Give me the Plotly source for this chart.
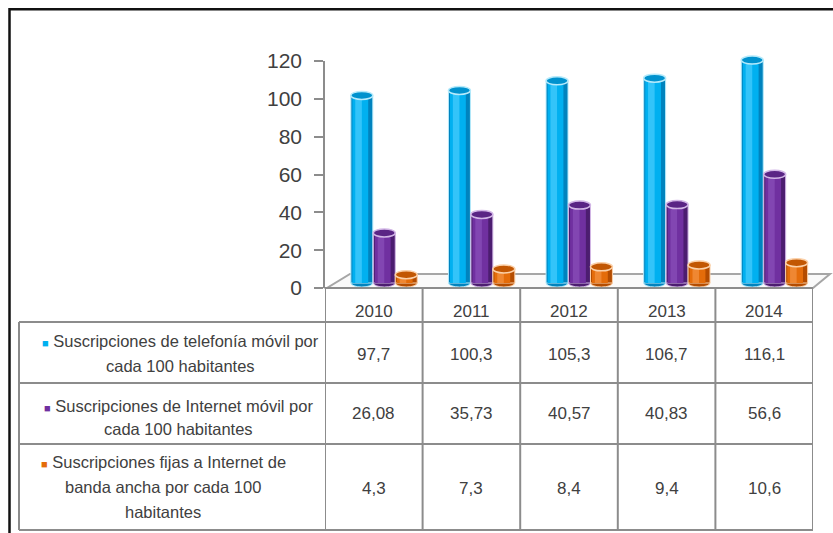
import plotly.graph_objects as go

# ---------------- data ----------------
years = ["2010", "2011", "2012", "2013", "2014"]
telefonia_movil = [97.7, 100.3, 105.3, 106.7, 116.1]
internet_movil = [26.08, 35.73, 40.57, 40.83, 56.6]
banda_ancha_fija = [4.3, 7.3, 8.4, 9.4, 10.6]
series_labels = [
    ["Suscripciones de telefonía móvil por", "cada 100 habitantes"],
    ["Suscripciones de Internet móvil por", "cada 100 habitantes"],
    ["Suscripciones fijas a Internet de", "banda ancha por cada 100", "habitantes"],
]
y_ticks = [0, 20, 40, 60, 80, 100, 120]

# ---------------- layout helpers (reference pixel -> paper) ----------------
W, H = 833, 533
def px(x):
    return x / W
def py(y):
    return 1 - y / H

FONT = "Liberation Sans, Arial, sans-serif"
TXT = "#404040"
GRID = "#8C8C8C"

series = [telefonia_movil, internet_movil, banda_ancha_fija]
styles = [
    dict(dark="#0083BE", main="#00B0F0", light="#55D2FF", rim="#B5EAFB", top="#0092CE"),
    dict(dark="#4C1D70", main="#7030A0", light="#8E55BE", rim="#D2B6E6", top="#5A2585"),
    dict(dark="#B44C00", main="#E46C0A", light="#F7994C", rim="#FBD0A8", top="#C25703"),
]
offsets = [-0.235, -0.005, 0.22]
BW = 0.225

# bar axis: 0 at y=283 px, 1.92 px per unit
PPU = 1.92
Y0PX = 283
Y2MIN, Y2MAX = -5, 120
y2dom = [py(Y0PX - Y2MIN * PPU), py(Y0PX - Y2MAX * PPU)]
E = 4.0 / PPU  # ellipse half height in data units

fig = go.Figure()
shapes = []

# invisible trace so that the tick axis subplot is drawn
fig.add_trace(go.Scatter(x=years, y=telefonia_movil, mode="none", hoverinfo="skip",
                         showlegend=False))

# floor
fl = [(327, 288), (813, 288), (830, 274), (350, 274)]
path = "M " + " L ".join(f"{px(a):.5f},{py(b):.5f}" for a, b in fl) + " Z"
shapes.append(dict(type="path", path=path, xref="paper", yref="paper",
                   fillcolor="#FAFAFA", line=dict(color="#A6A6A6", width=2), layer="below"))

for k, (vals, st, o) in enumerate(zip(series, styles, offsets)):
    fig.add_trace(go.Bar(x=years, y=vals, yaxis="y2", offset=o, width=BW,
                         marker=dict(color=st["dark"], line=dict(color=st["rim"], width=1)),
                         hoverinfo="y"))
    fig.add_trace(go.Bar(x=years, y=vals, yaxis="y2", offset=o + 0.07 * BW, width=0.72 * BW,
                         marker=dict(color=st["main"], line=dict(width=0)), hoverinfo="skip"))
    fig.add_trace(go.Bar(x=years, y=vals, yaxis="y2", offset=o + 0.2 * BW, width=0.3 * BW,
                         marker=dict(color=st["light"], line=dict(width=0), opacity=0.6),
                         hoverinfo="skip"))
    for i, v in enumerate(vals):
        shapes.append(dict(type="circle", xref="x", yref="y2",
                           x0=i + o, x1=i + o + BW, y0=-E, y1=E,
                           fillcolor=st["dark"], line=dict(color=st["rim"], width=1), layer="below"))
        shapes.append(dict(type="circle", xref="x", yref="y2",
                           x0=i + o, x1=i + o + BW, y0=v - E, y1=v + E,
                           fillcolor=st["top"], line=dict(color=st["rim"], width=1.5)))

# ---------------- data table ----------------
TOP, HDR, R1, R2, BOT = 288, 322, 383, 444, 530
LEFT = 19
for i in range(len(years) + 1):
    shapes.append(dict(type="line", xref="x", yref="paper",
                       x0=i - 0.5, x1=i - 0.5, y0=py(TOP), y1=py(BOT),
                       line=dict(color=GRID, width=2)))
shapes.append(dict(type="line", xref="x", yref="paper", x0=-0.5, x1=len(years) - 0.5,
                   y0=py(TOP), y1=py(TOP), line=dict(color=GRID, width=2)))
for yy in (HDR, R1, R2, BOT):
    shapes.append(dict(type="line", xref="paper", yref="paper", x0=px(LEFT), x1=px(813),
                       y0=py(yy), y1=py(yy), line=dict(color=GRID, width=2)))
shapes.append(dict(type="line", xref="paper", yref="paper", x0=px(LEFT), x1=px(LEFT),
                   y0=py(HDR), y1=py(BOT), line=dict(color=GRID, width=2)))

# outer frame
shapes.append(dict(type="path", xref="paper", yref="paper",
                   path=f"M {px(9.5)},0 L {px(9.5)},{py(9.3)} L 1,{py(9.3)}",
                   line=dict(color="#111111", width=2.5)))

annotations = []
for i, yr in enumerate(years):
    annotations.append(dict(x=i, y=py(311), xref="x", yref="paper", text=yr,
                            yanchor="middle", showarrow=False,
                            font=dict(family=FONT, size=17, color=TXT)))
row_val_y = [354, 413, 488]
row_lbl_x = [180, 178, 163]
row_lbl_y = [[341, 366], [406, 429], [462, 487, 512]]
for k, vals in enumerate(series):
    for i, v in enumerate(vals):
        annotations.append(dict(x=i, y=py(row_val_y[k]), xref="x", yref="paper",
                                yanchor="middle",
                                text=f"{v:g}".replace(".", ","), showarrow=False,
                                font=dict(family=FONT, size=17, color=TXT)))
    for j, line in enumerate(series_labels[k]):
        if j == 0:
            line = f'<span style="color:{styles[k]["main"]};font-size:11px">■</span> ' + line
        annotations.append(dict(x=px(row_lbl_x[k]), y=py(row_lbl_y[k][j]), xref="paper",
                                yref="paper", xanchor="center", yanchor="middle",
                                text=line, showarrow=False,
                                font=dict(family=FONT, size=16.5, color=TXT)))

fig.update_layout(
    width=W, height=H,
    margin=dict(l=0, r=0, t=0, b=0, autoexpand=False),
    paper_bgcolor="white", plot_bgcolor="rgba(0,0,0,0)",
    showlegend=False, barmode="overlay",
    xaxis=dict(type="category", domain=[px(325), px(813)], range=[-0.5, 4.5],
               visible=False, fixedrange=True, automargin=False),
    yaxis=dict(domain=[py(288), py(61)], range=[0, 120], tickvals=y_ticks,
               ticks="outside", ticklen=9, tickcolor="#8C8C8C", tickwidth=1.5,
               showline=True, linecolor="#8C8C8C", linewidth=1.5,
               showgrid=False, zeroline=False, anchor="x", ticklabelstandoff=8,
               automargin=False, fixedrange=True,
               tickfont=dict(family=FONT, size=21, color=TXT)),
    yaxis2=dict(domain=y2dom, range=[Y2MIN, Y2MAX], visible=False, anchor="x",
                automargin=False, fixedrange=True),
    shapes=shapes,
    annotations=annotations,
)

fig.write_html("out.html", config={"displayModeBar": False},
               post_script="document.body.style.margin='0';document.body.style.overflow='hidden';")
